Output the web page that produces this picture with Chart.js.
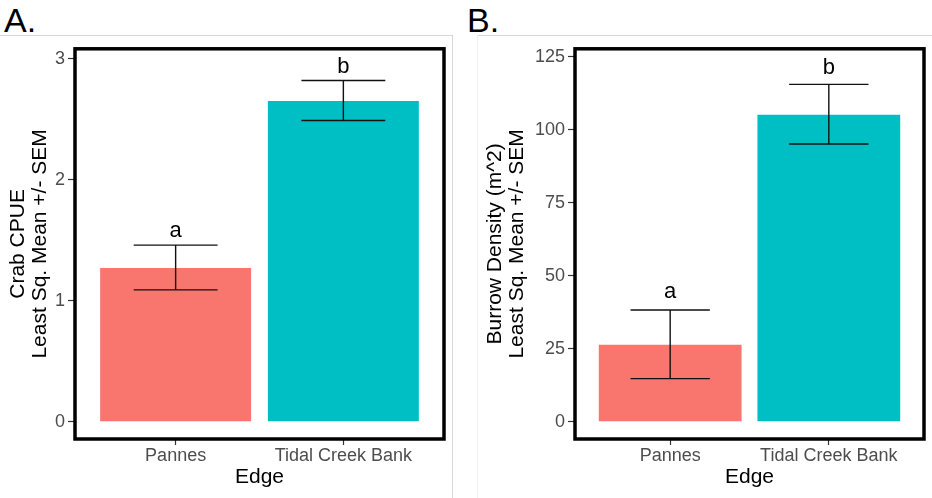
<!DOCTYPE html>
<html>
<head>
<meta charset="utf-8">
<script src="https://cdn.jsdelivr.net/npm/chart.js@4"></script>
<style>
  body { margin: 0; background: #fff; width: 932px; height: 498px; overflow: hidden; position: relative; font-family: "Liberation Sans", Arial, Helvetica, sans-serif; }
  .tag { position: absolute; top: 3px; font-size: 34px; line-height: 34px; color: #000; }
  .rule { position: absolute; background: #d6d6d6; }
  canvas { position: absolute; top: 35px; }
</style>
</head>
<body>
<div class="tag" style="left:4px">A.</div>
<div class="tag" style="left:467px">B.</div>
<canvas id="crabChart" width="452" height="463" style="left:0"></canvas>
<canvas id="burrowChart" width="455" height="463" style="left:477px"></canvas>
<div class="rule" style="left:0;top:35px;width:453px;height:1px"></div>
<div class="rule" style="left:452px;top:35px;width:1px;height:463px"></div>
<div class="rule" style="left:477px;top:35px;width:455px;height:1px"></div>
<div class="rule" style="left:477px;top:35px;width:1px;height:463px;background:#f1f1f1"></div>
<script>
  "use strict";

  var categories = ["Pannes", "Tidal Creek Bank"];
  var barColors = ["#F8766D", "#00BFC4"];

  // A. crab CPUE
  var cpueMean = [1.27, 2.65];
  var cpueLower = [1.09, 2.49];
  var cpueUpper = [1.46, 2.82];
  var cpueLetters = ["a", "b"];
  var cpueLetterY = [1.53, 2.88];
  var cpueTicks = [0, 1, 2, 3];

  // B. burrow density
  var burrowMean = [26.4, 105.2];
  var burrowLower = [14.8, 95.2];
  var burrowUpper = [38.3, 115.6];
  var burrowLetters = ["a", "b"];
  var burrowLetterY = [42.5, 119.1];
  var burrowTicks = [0, 25, 50, 75, 100, 125];

  var family = "'Liberation Sans', Arial, Helvetica, sans-serif";
  Chart.defaults.font.family = family;

  function panelChart(canvasId, set) {
    var ctx = document.getElementById(canvasId).getContext("2d");

    var extras = {
      id: "extras",
      afterDatasetsDraw: function (chart) {
        var c = chart.ctx, a = chart.chartArea, x = chart.scales.x, y = chart.scales.y;
        c.save();
        c.strokeStyle = "#111";
        c.lineWidth = 1.4;
        for (var i = 0; i < set.mean.length; i++) {
          var cx = x.getPixelForValue(i + 1);
          var hw = x.getPixelForValue(i + 1.25) - cx;
          var yl = y.getPixelForValue(set.lower[i]), yu = y.getPixelForValue(set.upper[i]);
          c.beginPath();
          c.moveTo(cx, yl); c.lineTo(cx, yu);
          c.moveTo(cx - hw, yl); c.lineTo(cx + hw, yl);
          c.moveTo(cx - hw, yu); c.lineTo(cx + hw, yu);
          c.stroke();
          c.fillStyle = "#000";
          c.font = "22px " + family;
          c.textAlign = "center";
          c.textBaseline = "alphabetic";
          c.fillText(set.letters[i], cx, y.getPixelForValue(set.letterY[i]));
        }
        c.lineWidth = 3.5;
        c.strokeStyle = "#000";
        c.strokeRect(a.left, a.top, a.right - a.left, a.bottom - a.top);
        c.restore();
      }
    };

    return new Chart(ctx, {
      type: "bar",
      data: {
        datasets: [{
          data: set.mean.map(function (v, i) { return { x: i + 1, y: v }; }),
          backgroundColor: barColors,
          borderWidth: 0,
          barPercentage: 0.9,
          categoryPercentage: 1
        }]
      },
      options: {
        responsive: false,
        animation: false,
        devicePixelRatio: 1,
        layout: { padding: { top: 11, right: 8, left: 0, bottom: 0 } },
        plugins: { legend: { display: false }, tooltip: { enabled: false } },
        scales: {
          x: {
            type: "linear",
            min: 0.4,
            max: 2.6,
            offset: false,
            afterBuildTicks: function (s) { s.ticks = categories.map(function (c, i) { return { value: i + 1 }; }); },
            afterFit: function (s) { s.height = 59; },
            ticks: {
              callback: function (v) { return categories[v - 1]; },
              font: { size: 18 },
              color: "#4d4d4d",
              padding: 0,
              autoSkip: false,
              maxRotation: 0
            },
            grid: { offset: false, drawOnChartArea: false, tickLength: 6, color: "#333", tickWidth: 1.2 },
            border: { display: false },
            title: { display: true, text: "Edge", color: "#000", font: { size: 21, lineHeight: 1 }, padding: { top: 0, bottom: 10 } }
          },
          y: {
            min: set.yMin,
            max: set.yMax,
            afterBuildTicks: function (s) { s.ticks = set.ticks.map(function (v) { return { value: v }; }); },
            afterFit: function (s) { s.width = set.yWidth; },
            ticks: { font: { size: 18 }, color: "#4d4d4d", padding: 3 },
            grid: { drawOnChartArea: false, tickLength: 7, color: "#333", tickWidth: 1.2 },
            border: { display: false },
            title: { display: true, text: set.title, color: "#000", font: { size: 21, lineHeight: 1.05 }, padding: { top: set.titlePad, bottom: 0 } }
          }
        }
      },
      plugins: [extras]
    });
  }

  panelChart("crabChart", {
    mean: cpueMean, lower: cpueLower, upper: cpueUpper,
    letters: cpueLetters, letterY: cpueLetterY, ticks: cpueTicks,
    yMin: -0.142, yMax: 3.082, yWidth: 75, titlePad: 7,
    title: ["Crab CPUE", "Least Sq. Mean +/- SEM"]
  });

  panelChart("burrowChart", {
    mean: burrowMean, lower: burrowLower, upper: burrowUpper,
    letters: burrowLetters, letterY: burrowLetterY, ticks: burrowTicks,
    yMin: -5.89, yMax: 127.8, yWidth: 98, titlePad: 7,
    title: ["Burrow Density (m^2)", "Least Sq. Mean +/- SEM"]
  });
</script>
</body>
</html>
